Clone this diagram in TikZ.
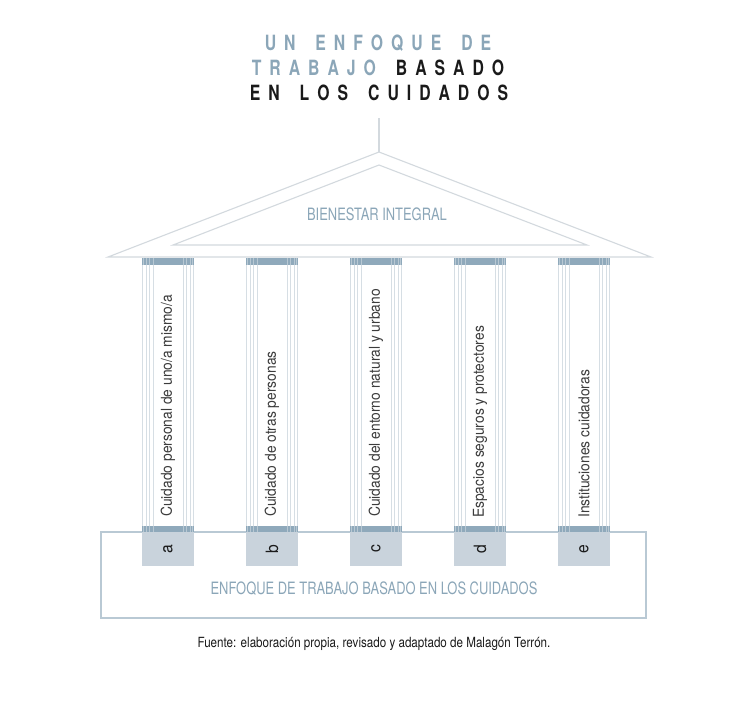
\documentclass[tikz,border=0pt]{standalone}
\usepackage{fontspec}
\setmainfont{TeX Gyre Heros}
\newfontfamily\titlefont{TeX Gyre Heros}[FakeStretch=0.75]
\newfontfamily\labfont{TeX Gyre Heros}[FakeStretch=0.76]
\newfontfamily\colfont{TeX Gyre Heros}[FakeStretch=0.92]
\newfontfamily\srcfont{TeX Gyre Heros}[FakeStretch=0.83]
% letter-spaced word: each letter followed by a fixed kern
\def\lsp#1{\lspLoop#1\relax}
\def\lspLoop#1{\ifx#1\relax\else#1\kern8pt\expandafter\lspLoop\fi}
\newcommand{\wsp}{\hspace*{12pt}}
\definecolor{tblue}{HTML}{8BA6B8}
\definecolor{tblack}{HTML}{1A1A1A}
\definecolor{roofgrey}{HTML}{D3D9DE}
\definecolor{rectblue}{HTML}{B9C9D4}
\definecolor{barblue}{HTML}{8FA9BB}
\definecolor{barlight}{HTML}{B8C8D3}
\definecolor{shaftline}{HTML}{D6DEE4}
\definecolor{basefill}{HTML}{C9D3DC}
\definecolor{coltext}{HTML}{3C3C3C}
\tikzset{
  titleline/.style={anchor=base, inner sep=0pt, font=\titlefont\fontsize{21}{25}\bfseries\selectfont},
  roof/.style={draw=roofgrey, line width=1.1pt},
  rectline/.style={draw=rectblue, line width=1.4pt},
  labeltext/.style={text=tblue, inner sep=0pt, font=\labfont\fontsize{17}{20}\selectfont},
  coltxt/.style={rotate=90, anchor=west, inner sep=0pt, text=coltext, font=\colfont\fontsize{15}{18}\selectfont},
  basetxt/.style={rotate=90, inner sep=0pt, text=tblack, font=\colfont\fontsize{17}{18}\selectfont},
  srctxt/.style={inner sep=0pt, text=tblack, font=\srcfont\fontsize{14}{16}\selectfont}
}
\begin{document}
\begin{tikzpicture}[x=1pt,y=-1pt]
\useasboundingbox (0,0) rectangle (754,702);
\fill[white] (0,0) rectangle (754,702);

% title
\node[titleline, text=tblue] (t1) at (382,50) {\lsp{UN}\wsp\lsp{ENFOQUE}\wsp\lsp{DE}};
\node[titleline, text=tblack] (t2) at (382,75) {\textcolor{tblue}{\lsp{TRABAJO}}\wsp\lsp{BASADO}};
\node[titleline, text=tblack] (t3) at (383,100) {\lsp{EN}\wsp\lsp{LOS}\wsp\lsp{CUIDADOS}};

% roof
\coordinate (rtop) at (379,118);
\coordinate (apex) at (379,152);
\coordinate (ol) at (108,257);
\coordinate (or) at (651,257);
\coordinate (ia) at (379,165);
\coordinate (il) at (173,245);
\coordinate (ir) at (587,245);
\draw[roof] (rtop) -- (apex);
\draw[roof] (ol) -- (apex) -- (or) -- cycle;
\draw[roof] (il) -- (ia) -- (ir) -- cycle;
\node[labeltext] (bien) at (377,214) {BIENESTAR INTEGRAL};

% foundation rectangle
\draw[rectline] (101,532) rectangle (646,618);
\node[labeltext] (enf) at (374,589) {ENFOQUE DE TRABAJO BASADO EN LOS CUIDADOS};

% columns
\foreach \x in {142,246,350,454,558} {
  \foreach \d in {0.5,4,7.5,11,41,44.5,48,51.5} {
    \draw[shaftline, line width=0.6pt] ({\x+\d},265) -- ({\x+\d},526);
  }
  \fill[barblue] (\x,258) rectangle ({\x+52},265);
  \fill[barblue] (\x,526) rectangle ({\x+52},532);
  \foreach \d in {1.5,4,7.5,11,41,44.5,48,50.5} {
    \draw[barlight, line width=0.7pt] ({\x+\d},258) -- ({\x+\d},265);
    \draw[barlight, line width=0.7pt] ({\x+\d},526) -- ({\x+\d},532);
  }
  \fill[basefill] (\x,532) rectangle ({\x+52},566);
}

% column texts
\node[coltxt] (ca) at (168,517) {Cuidado personal de uno/a mismo/a};
\node[coltxt] (cb) at (272,517) {Cuidado de otras personas};
\node[coltxt] (cc) at (376,517) {Cuidado del entorno natural y urbano};
\node[coltxt] (cd) at (480,518) {Espacios seguros y protectores};
\node[coltxt] (ce) at (584,518) {Instituciones cuidadoras};

\node[basetxt] (ba) at (168,549) {a};
\node[basetxt] (bb) at (272,549) {b};
\node[basetxt] (bc) at (376,549) {c};
\node[basetxt] (bd) at (480,549) {d};
\node[basetxt] (be) at (584,549) {e};

\node[srctxt] (src) at (374,644) {Fuente: elaboración propia, revisado y adaptado de Malagón Terrón.};
\end{tikzpicture}
\end{document}
